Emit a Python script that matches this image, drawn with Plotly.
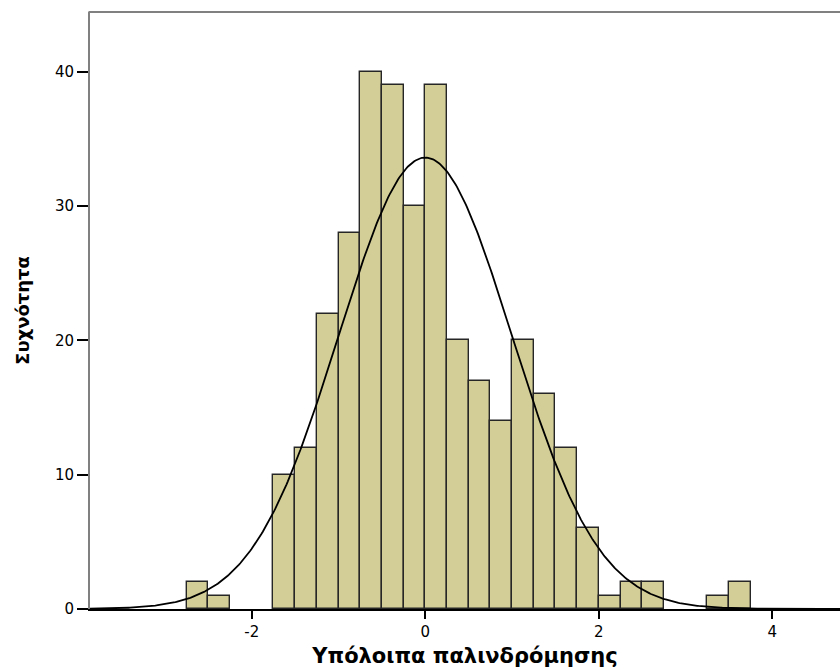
import numpy as np
import plotly.graph_objects as go

# Histogram bins (left edges, width 0.25) and frequencies
bin_left = [-2.75, -2.50, -1.75, -1.50, -1.25, -1.00, -0.75, -0.50, -0.25,
            0.00, 0.25, 0.50, 0.75, 1.00, 1.25, 1.50, 1.75, 2.00, 2.25,
            2.50, 3.25, 3.50]
counts = [2, 1, 10, 12, 22, 28, 40, 39, 30,
          39, 20, 17, 14, 20, 16, 12, 6, 1, 2,
          2, 1, 2]
bin_width = 0.25

# Normal curve parameters (SPSS fitted normal)
mean = 0.0
std_dev = 0.997
n_obs = sum(counts)

x_tick_vals = [-2, 0, 2, 4]
x_tick_text = ["-2", "0", "2", "4"]
y_tick_vals = [0, 10, 20, 30, 40]
y_tick_text = ["0", "10", "20", "30", "40"]

x_range = [-3.865, 4.78]
y_range = [0, 44.45]

bar_centers = [b + bin_width / 2 for b in bin_left]

curve_x = np.linspace(x_range[0], x_range[1], 600)
curve_y = n_obs * bin_width / (std_dev * np.sqrt(2 * np.pi)) * np.exp(
    -0.5 * ((curve_x - mean) / std_dev) ** 2)

fig = go.Figure()
fig.add_trace(go.Bar(
    x=bar_centers, y=counts, width=bin_width,
    marker=dict(color="rgb(211,206,151)",
                line=dict(color="#262626", width=1.4)),
    hoverinfo="x+y", showlegend=False))
fig.add_trace(go.Scatter(
    x=curve_x, y=curve_y, mode="lines",
    line=dict(color="black", width=1.8), showlegend=False, hoverinfo="skip"))

fig.update_layout(
    width=840, height=670,
    margin=dict(l=90, r=0, t=12, b=61),
    paper_bgcolor="white", plot_bgcolor="white",
    font=dict(family="DejaVu Sans", color="black"),
    bargap=0,
    xaxis=dict(range=x_range, tickvals=x_tick_vals, ticktext=x_tick_text,
               ticks="outside",
               ticklen=8, tickwidth=1.5, tickcolor="black",
               showline=True, linecolor="black", linewidth=1.5,
               showgrid=False, zeroline=False,
               tickfont=dict(size=15, family="DejaVu Sans"),
               title=dict(text="<b>Υπόλοιπα παλινδρόμησης</b>",
                          font=dict(size=21, family="DejaVu Sans"),
                          standoff=9)),
    yaxis=dict(range=y_range, tickvals=y_tick_vals, ticktext=y_tick_text,
               ticks="outside",
               ticklen=11, tickwidth=1.5, tickcolor="black",
               showline=True, linecolor="#808080", linewidth=2,
               showgrid=False, zeroline=False,
               tickfont=dict(size=15, family="DejaVu Sans"),
               title=dict(text="<b>Συχνότητα</b>",
                          font=dict(size=18, family="DejaVu Sans"),
                          standoff=21)),
    shapes=[dict(type="line", xref="paper", yref="paper",
                 x0=-0.002, x1=1, y0=1.0, y1=1.0,
                 line=dict(color="#808080", width=2))],
)

fig.write_html("out.html")
